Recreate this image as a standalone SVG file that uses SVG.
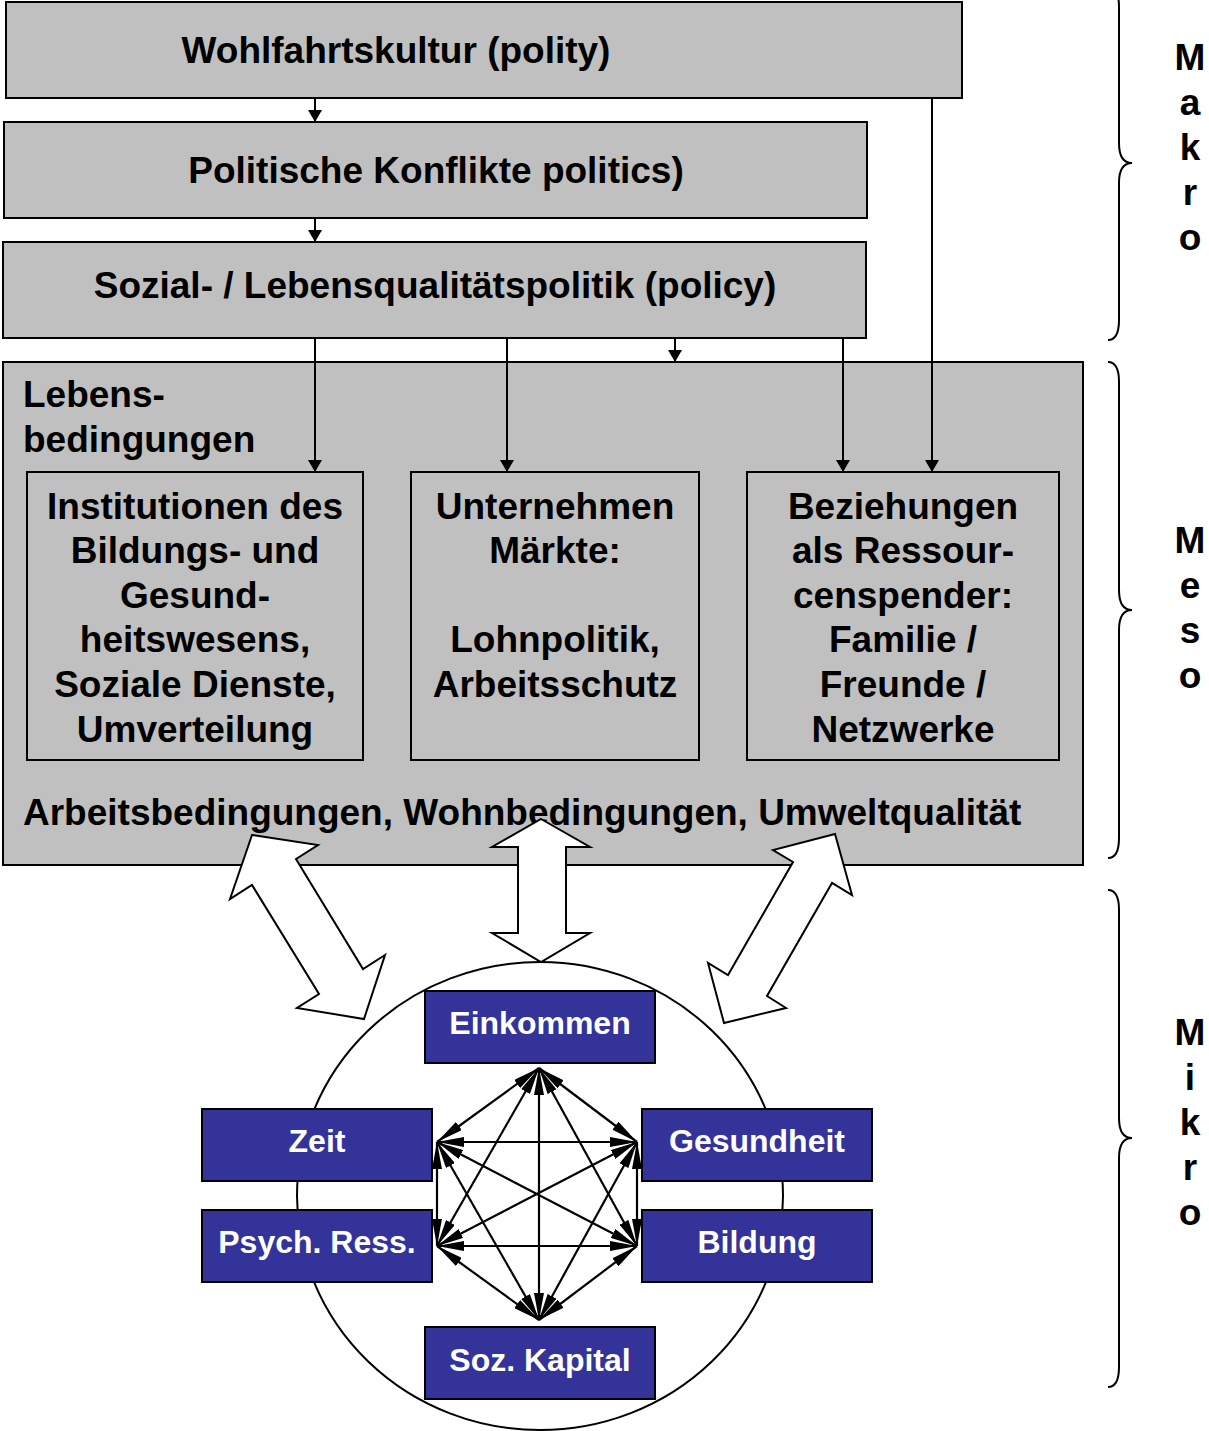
<svg xmlns="http://www.w3.org/2000/svg" width="1209" height="1431" viewBox="0 0 1209 1431">
<defs>
<marker id="ah" viewBox="0 0 14 12" refX="7" refY="12" markerWidth="14" markerHeight="12" markerUnits="userSpaceOnUse" orient="0">
<path d="M0,0 L14,0 L7,12 Z" fill="#000"/>
</marker>
<marker id="mh" viewBox="0 0 27 10" refX="27" refY="5" markerWidth="27" markerHeight="10" markerUnits="userSpaceOnUse" orient="auto-start-reverse">
<path d="M0,0 L27,5 L0,10 Z" fill="#000"/>
</marker>
</defs>
<style>
.g{fill:#C0C0C0;stroke:#000;stroke-width:2}
.t{font-family:"Liberation Sans",Arial,sans-serif;font-weight:bold;font-size:37px;fill:#000}
.c{text-anchor:middle}
.b{fill:#333399;stroke:#000;stroke-width:2}
.w{font-family:"Liberation Sans",Arial,sans-serif;font-weight:bold;font-size:32px;fill:#fff;text-anchor:middle}
.ln{stroke:#000;stroke-width:2;fill:none}
.hl{fill:#fff;stroke:#000;stroke-width:2;stroke-linejoin:miter}
.br{fill:none;stroke:#000;stroke-width:2}
</style>
<rect width="1209" height="1431" fill="#fff"/>

<g id="polity"><rect class="g" x="6" y="2" width="956" height="96"/><text class="t c" x="396" y="63">Wohlfahrtskultur (polity)</text></g>
<g id="politics"><rect class="g" x="4" y="122" width="863" height="96"/><text class="t c" x="436" y="183">Politische Konflikte politics)</text></g>
<g id="policy"><rect class="g" x="3" y="242" width="863" height="96"/><text class="t c" x="435" y="298">Sozial- / Lebensqualitätspolitik (policy)</text></g>

<g id="lebensbedingungen">
<rect class="g" x="3" y="362" width="1080" height="503"/>
<text class="t" x="23" y="407">Lebens-</text>
<text class="t" x="23" y="452">bedingungen</text>
<text class="t" x="23" y="825">Arbeitsbedingungen, Wohnbedingungen, Umweltqualität</text>
</g>

<g id="institutionen"><rect class="g" x="27" y="472" width="336" height="288"/>
<text class="t c" x="195" y="519">Institutionen des</text>
<text class="t c" x="195" y="563">Bildungs- und</text>
<text class="t c" x="195" y="608">Gesund-</text>
<text class="t c" x="195" y="652">heitswesens,</text>
<text class="t c" x="195" y="697">Soziale Dienste,</text>
<text class="t c" x="195" y="742">Umverteilung</text>
</g>
<g id="unternehmen"><rect class="g" x="411" y="472" width="288" height="288"/>
<text class="t c" x="555" y="519">Unternehmen</text>
<text class="t c" x="555" y="563">Märkte:</text>
<text class="t c" x="555" y="652">Lohnpolitik,</text>
<text class="t c" x="555" y="697">Arbeitsschutz</text>
</g>
<g id="beziehungen"><rect class="g" x="747" y="472" width="312" height="288"/>
<text class="t c" x="903" y="519">Beziehungen</text>
<text class="t c" x="903" y="563">als Ressour-</text>
<text class="t c" x="903" y="608">censpender:</text>
<text class="t c" x="903" y="652">Familie /</text>
<text class="t c" x="903" y="697">Freunde /</text>
<text class="t c" x="903" y="742">Netzwerke</text>
</g>

<g id="connectors">
<line class="ln" x1="315" y1="98" x2="315" y2="122" marker-end="url(#ah)"/>
<line class="ln" x1="315" y1="218" x2="315" y2="242" marker-end="url(#ah)"/>
<line class="ln" x1="315" y1="338" x2="315" y2="472" marker-end="url(#ah)"/>
<line class="ln" x1="507" y1="338" x2="507" y2="472" marker-end="url(#ah)"/>
<line class="ln" x1="675" y1="338" x2="675" y2="362" marker-end="url(#ah)"/>
<line class="ln" x1="843" y1="338" x2="843" y2="472" marker-end="url(#ah)"/>
<line class="ln" x1="932" y1="98" x2="932" y2="472" marker-end="url(#ah)"/>
</g>

<g id="person">
<ellipse cx="540" cy="1196" rx="243" ry="234" fill="#fff" stroke="#000" stroke-width="2"/>
</g>

<g id="hollow-arrows">
<polygon class="hl" points="541,819 590,847 566,847 566,933 590,933 541,962 492,933 518,933 518,847 492,847"/>
<polygon class="hl" points="252,835 318,845 296,859 363,969 385,955 364,1019 297,1008 319,994 252,885 230,899"/>
<polygon class="hl" points="835,834 852,895 832,883 767,996 786,1008 724,1023 708,963 728,975 793,862 773,850"/>
</g>

<g id="mesh" stroke="#000" stroke-width="2.2">
<line x1="539" y1="1068" x2="437" y2="1142" marker-start="url(#mh)" marker-end="url(#mh)"/>
<line x1="539" y1="1068" x2="637" y2="1142" marker-start="url(#mh)" marker-end="url(#mh)"/>
<line x1="539" y1="1068" x2="437" y2="1246" marker-start="url(#mh)" marker-end="url(#mh)"/>
<line x1="539" y1="1068" x2="637" y2="1246" marker-start="url(#mh)" marker-end="url(#mh)"/>
<line x1="539" y1="1068" x2="539" y2="1320" marker-start="url(#mh)" marker-end="url(#mh)"/>
<line x1="437" y1="1142" x2="637" y2="1142" marker-start="url(#mh)" marker-end="url(#mh)"/>
<line x1="437" y1="1142" x2="437" y2="1246" marker-start="url(#mh)" marker-end="url(#mh)"/>
<line x1="437" y1="1142" x2="637" y2="1246" marker-start="url(#mh)" marker-end="url(#mh)"/>
<line x1="437" y1="1142" x2="539" y2="1320" marker-start="url(#mh)" marker-end="url(#mh)"/>
<line x1="637" y1="1142" x2="437" y2="1246" marker-start="url(#mh)" marker-end="url(#mh)"/>
<line x1="637" y1="1142" x2="637" y2="1246" marker-start="url(#mh)" marker-end="url(#mh)"/>
<line x1="637" y1="1142" x2="539" y2="1320" marker-start="url(#mh)" marker-end="url(#mh)"/>
<line x1="437" y1="1246" x2="637" y2="1246" marker-start="url(#mh)" marker-end="url(#mh)"/>
<line x1="437" y1="1246" x2="539" y2="1320" marker-start="url(#mh)" marker-end="url(#mh)"/>
<line x1="637" y1="1246" x2="539" y2="1320" marker-start="url(#mh)" marker-end="url(#mh)"/>
</g>

<g id="einkommen"><rect class="b" x="425" y="991" width="230" height="72"/><text class="w" x="540" y="1034">Einkommen</text></g>
<g id="zeit"><rect class="b" x="202" y="1109" width="230" height="72"/><text class="w" x="317" y="1152">Zeit</text></g>
<g id="gesundheit"><rect class="b" x="642" y="1109" width="230" height="72"/><text class="w" x="757" y="1152">Gesundheit</text></g>
<g id="psych"><rect class="b" x="202" y="1210" width="230" height="72"/><text class="w" x="317" y="1253">Psych. Ress.</text></g>
<g id="bildung"><rect class="b" x="642" y="1210" width="230" height="72"/><text class="w" x="757" y="1253">Bildung</text></g>
<g id="sozkapital"><rect class="b" x="425" y="1327" width="230" height="72"/><text class="w" x="540" y="1371">Soz. Kapital</text></g>

<g id="braces">
<path class="br" d="M1108,-13 Q1119,-13 1119,7 L1119,143 Q1119,163 1132,163 Q1119,163 1119,183 L1119,320 Q1119,340 1108,340"/>
<path class="br" d="M1108,362 Q1119,362 1119,382 L1119,590 Q1119,610 1132,610 Q1119,610 1119,630 L1119,838 Q1119,858 1108,858"/>
<path class="br" d="M1108,890 Q1119,890 1119,910 L1119,1118 Q1119,1138 1132,1138 Q1119,1138 1119,1158 L1119,1367 Q1119,1387 1108,1387"/>
</g>

<g id="levels">
<text class="t c" x="1190" y="70">M</text>
<text class="t c" x="1190" y="115">a</text>
<text class="t c" x="1190" y="160">k</text>
<text class="t c" x="1190" y="205">r</text>
<text class="t c" x="1190" y="250">o</text>
<text class="t c" x="1190" y="553">M</text>
<text class="t c" x="1190" y="598">e</text>
<text class="t c" x="1190" y="643">s</text>
<text class="t c" x="1190" y="688">o</text>
<text class="t c" x="1190" y="1045">M</text>
<text class="t c" x="1190" y="1090">i</text>
<text class="t c" x="1190" y="1135">k</text>
<text class="t c" x="1190" y="1180">r</text>
<text class="t c" x="1190" y="1225">o</text>
</g>
</svg>
